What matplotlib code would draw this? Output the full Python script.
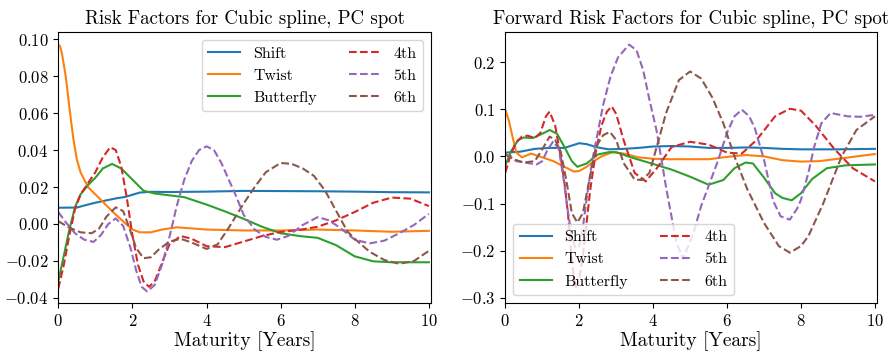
import matplotlib
matplotlib.use("Agg")
import matplotlib.pyplot as plt

plt.rcParams['font.family'] = 'serif'
plt.rcParams['font.serif'] = ['cmr10']
plt.rcParams['mathtext.fontset'] = 'cm'
plt.rcParams['axes.formatter.use_mathtext'] = True

labels = ['Shift', 'Twist', 'Butterfly', '4th', '5th', '6th']
colors = ['tab:blue', 'tab:orange', 'tab:green', 'tab:red', 'tab:purple', 'tab:brown']
styles = ['-', '-', '-', '--', '--', '--']

# --- spot risk factors (left panel) ---
spot_shift_x = [0, 0.5, 0.8, 1.0, 1.3, 1.6, 1.8, 2.0, 2.2, 2.5, 3, 4, 5, 6, 7, 8, 9, 10]
spot_shift_y = [0.0088, 0.0089, 0.0105, 0.0115, 0.0128, 0.014, 0.0146, 0.0158, 0.017, 0.0174,
                0.0173, 0.0175, 0.0179, 0.0178, 0.0177, 0.0175, 0.0172, 0.0171]

spot_twist_x = [0, 0.05, 0.1, 0.2, 0.3, 0.4, 0.5, 0.6, 0.8, 1.0, 1.25, 1.5, 1.8, 2.0, 2.2, 2.5,
                2.8, 3.2, 4, 5, 6, 7, 8, 9, 10]
spot_twist_y = [0.097, 0.096, 0.092, 0.080, 0.063, 0.047, 0.035, 0.028, 0.020, 0.016, 0.011,
                0.006, 0.0005, -0.003, -0.0045, -0.0045, -0.003, -0.0018, -0.003, -0.0035,
                -0.0035, -0.003, -0.0035, -0.0042, -0.0037]

spot_fly_x = [0, 0.15, 0.3, 0.45, 0.6, 0.8, 1.0, 1.2, 1.45, 1.7, 2.0, 2.3, 2.6, 3.0, 3.4, 4.0,
              4.5, 5.0, 5.5, 6.0, 6.5, 7.0, 7.5, 8.0, 8.5, 9.0, 10]
spot_fly_y = [-0.031, -0.017, -0.003, 0.009, 0.016, 0.021, 0.025, 0.030, 0.0325, 0.030, 0.024,
              0.018, 0.0165, 0.0155, 0.0145, 0.0105, 0.0068, 0.0028, -0.0015, -0.005, -0.0065,
              -0.0075, -0.0115, -0.0175, -0.0202, -0.0207, -0.0207]

spot_4th_x = [0, 0.15, 0.3, 0.45, 0.6, 0.8, 1.0, 1.2, 1.4, 1.55, 1.7, 1.85, 2.0, 2.15, 2.3,
              2.45, 2.6, 2.8, 3.0, 3.3, 3.6, 4.0, 4.5, 5.0, 5.5, 6.0, 6.5, 7.0, 7.5, 8.0, 8.5,
              9.0, 9.5, 10]
spot_4th_y = [-0.035, -0.022, -0.006, 0.008, 0.016, 0.022, 0.028, 0.036, 0.0415, 0.040, 0.031,
              0.014, -0.006, -0.022, -0.031, -0.034, -0.031, -0.021, -0.011, -0.0065, -0.008,
              -0.012, -0.0125, -0.0095, -0.0065, -0.0043, -0.0032, -0.0015, 0.002, 0.0065,
              0.0115, 0.0143, 0.0137, 0.0097]

spot_5th_x = [0, 0.2, 0.45, 0.7, 0.95, 1.15, 1.35, 1.55, 1.75, 1.95, 2.1, 2.25, 2.4, 2.6, 2.8,
              3.0, 3.2, 3.4, 3.6, 3.8, 4.0, 4.2, 4.4, 4.6, 4.8, 5.0, 5.3, 5.6, 5.9, 6.2, 6.6,
              7.0, 7.3, 7.6, 8.0, 8.4, 8.8, 9.2, 9.6, 10]
spot_5th_y = [0.0065, 0.001, -0.005, -0.0085, -0.0097, -0.006, 0.0, 0.003, -0.001, -0.013,
              -0.025, -0.034, -0.0365, -0.033, -0.022, -0.007, 0.010, 0.024, 0.034, 0.040,
              0.042, 0.040, 0.033, 0.024, 0.015, 0.005, -0.003, -0.007, -0.0085, -0.0065,
              -0.0005, 0.0037, 0.002, -0.002, -0.0085, -0.0105, -0.009, -0.005, -0.0005, 0.0055]

spot_6th_x = [0, 0.3, 0.6, 0.9, 1.1, 1.3, 1.55, 1.75, 1.95, 2.1, 2.3, 2.5, 2.7, 3.0, 3.3, 3.6,
              4.0, 4.3, 4.6, 5.0, 5.3, 5.6, 6.0, 6.3, 6.6, 6.9, 7.2, 7.5, 7.8, 8.0, 8.4, 8.8,
              9.2, 9.6, 10]
spot_6th_y = [0.0015, -0.002, -0.0045, -0.005, -0.0025, 0.004, 0.009, 0.007, -0.004, -0.013,
              -0.0185, -0.018, -0.014, -0.0095, -0.008, -0.010, -0.0135, -0.011, -0.002, 0.011,
              0.020, 0.028, 0.033, 0.0325, 0.030, 0.026, 0.018, 0.007, -0.004, -0.008, -0.015,
              -0.0195, -0.0215, -0.020, -0.0145]

# --- forward risk factors (right panel) ---
fwd_shift_x = [0, 0.4, 0.8, 1.2, 1.6, 1.8, 2.0, 2.2, 2.5, 2.8, 3.2, 3.6, 4.0, 4.5, 5.0, 5.5,
               6.0, 6.5, 7.0, 7.5, 8.0, 9.0, 10]
fwd_shift_y = [0.008, 0.01, 0.016, 0.018, 0.018, 0.023, 0.028, 0.026, 0.019, 0.015, 0.016,
               0.018, 0.021, 0.022, 0.021, 0.018, 0.018, 0.019, 0.018, 0.016, 0.015, 0.015, 0.016]

fwd_twist_x = [0, 0.1, 0.2, 0.3, 0.45, 0.7, 1.0, 1.3, 1.6, 1.85, 2.0, 2.2, 2.4, 2.6, 2.9, 3.2,
               3.6, 4.0, 4.5, 5.0, 5.5, 6.0, 6.5, 7.0, 7.5, 8.0, 8.5, 9.0, 9.5, 10]
fwd_twist_y = [0.099, 0.075, 0.04, 0.008, -0.002, 0.006, -0.002, -0.01, -0.022, -0.032,
               -0.031, -0.022, -0.01, 0.0, 0.009, 0.006, -0.002, -0.005, -0.006, -0.006, -0.006,
               -0.001, 0.003, 0.0, -0.008, -0.011, -0.01, -0.005, 0.0, 0.005]

fwd_fly_x = [0, 0.15, 0.35, 0.5, 0.75, 1.0, 1.2, 1.4, 1.6, 1.8, 1.95, 2.2, 2.5, 2.8, 3.0, 3.4,
             4.0, 4.5, 5.0, 5.5, 5.9, 6.2, 6.5, 6.7, 7.0, 7.3, 7.5, 7.75, 8.0, 8.3, 8.7, 9.2,
             9.6, 10]
fwd_fly_y = [-0.02, 0.01, 0.035, 0.04, 0.039, 0.048, 0.056, 0.048, 0.02, -0.01, -0.022, -0.015,
             0.004, 0.009, 0.009, -0.002, -0.016, -0.028, -0.043, -0.06, -0.05, -0.025,
             -0.013, -0.015, -0.045, -0.078, -0.088, -0.093, -0.078, -0.048, -0.025, -0.019,
             -0.018, -0.017]

fwd_4th_x = [0, 0.15, 0.3, 0.45, 0.6, 0.8, 0.95, 1.1, 1.2, 1.35, 1.5, 1.6, 1.7, 1.8, 1.9, 2.0,
             2.1, 2.2, 2.3, 2.45, 2.6, 2.75, 2.88, 3.0, 3.2, 3.5, 3.8, 4.1, 4.5, 5.0, 5.5, 6.0,
             6.4, 6.8, 7.3, 7.7, 8.0, 8.4, 8.9, 9.4, 10]
fwd_4th_y = [-0.035, 0.005, 0.03, 0.042, 0.044, 0.039, 0.05, 0.085, 0.095, 0.065, 0.0, -0.055,
             -0.125, -0.22, -0.28, -0.26, -0.21, -0.14, -0.07, 0.01, 0.065, 0.095, 0.106, 0.09,
             0.035, -0.035, -0.053, -0.025, 0.02, 0.031, 0.025, 0.008, 0.006, 0.035, 0.085,
             0.101, 0.097, 0.065, 0.016, -0.025, -0.053]

fwd_5th_x = [0, 0.3, 0.6, 0.85, 1.0, 1.15, 1.3, 1.45, 1.6, 1.7, 1.8, 1.9, 2.0, 2.1, 2.2, 2.35,
             2.5, 2.65, 2.85, 3.05, 3.35, 3.55, 3.73, 3.9, 4.09, 4.36, 4.63, 4.81, 5.08, 5.3,
             5.5, 5.75, 6.0, 6.2, 6.4, 6.6, 6.75, 7.0, 7.25, 7.45, 7.7, 7.9, 8.0, 8.2, 8.36,
             8.55, 8.8, 9.26, 9.6, 10]
fwd_5th_y = [0.005, -0.01, -0.014, -0.017, -0.01, 0.015, 0.032, 0.015, -0.06, -0.12, -0.17,
             -0.195, -0.19, -0.15, -0.09, -0.01, 0.05, 0.11, 0.17, 0.21, 0.237, 0.225, 0.183,
             0.12, 0.056, -0.07, -0.183, -0.217, -0.165, -0.105, -0.063, -0.01, 0.05, 0.085,
             0.099, 0.085, 0.06, -0.007, -0.095, -0.127, -0.134, -0.11, -0.092, -0.035, 0.021,
             0.07, 0.092, 0.085, 0.084, 0.088]

fwd_6th_x = [0, 0.3, 0.5, 0.8, 1.0, 1.2, 1.35, 1.5, 1.65, 1.8, 1.95, 2.1, 2.25, 2.45, 2.65,
             2.83, 3.0, 3.2, 3.5, 3.7, 3.9, 4.1, 4.35, 4.7, 5.0, 5.3, 5.6, 5.9, 6.2, 6.55, 7.0,
             7.4, 7.7, 8.0, 8.2, 8.6, 9.1, 9.5, 10]
fwd_6th_y = [0.004, -0.008, -0.013, -0.01, 0.015, 0.042, 0.035, 0.01, -0.05, -0.12, -0.14,
             -0.12, -0.06, 0.02, 0.045, 0.052, 0.035, -0.014, -0.049, -0.05, -0.035, 0.021,
             0.092, 0.162, 0.18, 0.165, 0.125, 0.07, 0.0, -0.07, -0.141, -0.19, -0.204, -0.19,
             -0.169, -0.1, 0.0, 0.056, 0.085]

spot = [(spot_shift_x, spot_shift_y), (spot_twist_x, spot_twist_y), (spot_fly_x, spot_fly_y),
        (spot_4th_x, spot_4th_y), (spot_5th_x, spot_5th_y), (spot_6th_x, spot_6th_y)]
fwd = [(fwd_shift_x, fwd_shift_y), (fwd_twist_x, fwd_twist_y), (fwd_fly_x, fwd_fly_y),
       (fwd_4th_x, fwd_4th_y), (fwd_5th_x, fwd_5th_y), (fwd_6th_x, fwd_6th_y)]

fig = plt.figure(figsize=(8.94, 3.56), dpi=100)
ax1 = fig.add_axes([0.0652, 0.149, 0.4166, 0.761])
ax2 = fig.add_axes([0.5652, 0.149, 0.4155, 0.761])

for (x, y), lab, c, ls in zip(spot, labels, colors, styles):
    ax1.plot(x, y, color=c, linestyle=ls, label=lab, lw=1.5)
for (x, y), lab, c, ls in zip(fwd, labels, colors, styles):
    ax2.plot(x, y, color=c, linestyle=ls, label=lab, lw=1.5)

ax1.set_xlim(0, 10.05)
ax1.set_ylim(-0.0427, 0.1038)
ax2.set_xlim(0, 10.05)
ax2.set_ylim(-0.3106, 0.2636)
for ax in (ax1, ax2):
    ax.set_xticks([0, 2, 4, 6, 8, 10])
    ax.tick_params(labelsize=12)
    ax.set_xlabel('Maturity [Years]', fontsize=14, labelpad=2)

ax1.set_title('Risk Factors for Cubic spline, PC spot', fontsize=13.6)
ax2.set_title('Forward Risk Factors for Cubic spline, PC spot', fontsize=13.6)

ax1.legend(loc='upper right', ncol=2, fontsize=11.5, handlelength=2.0)
ax2.legend(loc='lower left', ncol=2, fontsize=11.5, handlelength=2.0)

fig.savefig('out.png', dpi=100)
